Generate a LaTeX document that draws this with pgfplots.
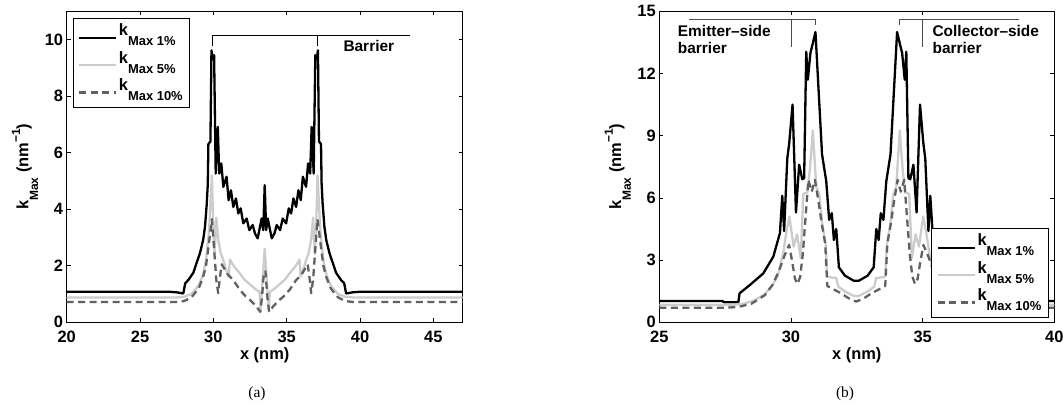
\documentclass[border=0pt]{standalone}
\usepackage{fontspec}
\setmainfont{Liberation Sans}
\newfontfamily\capfont{Liberation Serif}
\usepackage{pgfplots}
\pgfplotsset{compat=1.18}

\definecolor{lgray}{gray}{0.80}
\definecolor{dgray}{gray}{0.38}

\newcommand{\lbl}{\fontsize{16.5}{19}\selectfont\bfseries}
\newcommand{\ann}{\fontsize{15.5}{18}\selectfont\bfseries}
\newcommand{\sub}[1]{\raisebox{-0.6em}{\fontsize{12}{13}\selectfont #1}}
\newcommand{\sups}[1]{\raisebox{0.5em}{\fontsize{12}{13}\selectfont #1}}
% legend entry: k with a lowered subscript
\newcommand{\kent}[1]{{\fontsize{16.5}{19}\selectfont\bfseries k\raisebox{-10bp}{\fontsize{13}{14}\selectfont #1}}}

\pgfplotsset{
  kmax/.style={
    scale only axis, width=395bp, height=311bp,
    axis line style={line width=0.9bp},
    tick style={line width=0.7bp, black},
    tick align=inside, major tick length=4bp, tick pos=both,
    ticklabel style={font=\lbl},
    /pgf/number format/assume math mode=true,
    yticklabel style={inner sep=0pt, xshift=-3.4bp},
    xticklabel style={inner sep=0pt, yshift=-8.4bp},
    xlabel style={font=\lbl, at={(axis description cs:0.5,-0.105)}, anchor=center},
    ylabel style={font=\lbl, at={(axis description cs:-0.105,0.5)}, anchor=center},
    xlabel={x (nm)},
    ylabel={k\sub{Max} (nm\sups{\textminus1})},
    legend cell align=left,
    legend image code/.code={\draw[#1] (0bp,-2.5bp) -- (37bp,-2.5bp);},
    legend style={draw=black, line width=0.8bp, fill=white,
      inner xsep=5bp, inner ysep=6bp, row sep=5bp,
      nodes={inner xsep=1.5bp, inner ysep=0bp, text depth=10.5bp}},
    every axis plot/.append style={line width=2.3bp, line join=round},
  },
  k1/.style={black},
  k5/.style={lgray},
  k10/.style={dgray, dash pattern=on 7bp off 4.5bp},
}

\begin{document}
\begin{tikzpicture}
\useasboundingbox (0,0) rectangle (1063bp,405bp);

% ---------------- (a) single barrier ----------------
\begin{axis}[kmax, at={(66.7bp,82.7bp)}, anchor=south west, width=396bp,
  xmin=20, xmax=47, ymin=0, ymax=11,
  xtick={20,25,...,45}, ytick={0,2,...,10},
  legend style={at={(0.0152,0.9797)}, anchor=north west}]
\addplot[k1] coordinates {
(20,1.08) (27.0,1.08) (27.5,1.06) (27.95,1.02) (28.08,1.38) (28.3,1.5) (28.63,1.75)
(29.08,2.44) (29.3,2.9) (29.43,3.38) (29.55,4.2) (29.62,4.9) (29.66,6.3) (29.8,6.4)
(29.87,9.62) (29.95,9.3) (30.05,9.45) (30.16,5.26) (30.3,6.91) (30.4,5.26) (30.54,5.62)
(30.68,4.79) (30.9,5.15) (31.04,4.32) (31.2,4.67) (31.36,4.08) (31.54,4.38) (31.7,3.85)
(31.86,4.03) (32.04,3.5) (32.27,3.67) (32.45,3.26) (32.68,3.44) (32.84,3.14) (33.02,2.97)
(33.18,3.38) (33.29,3.67) (33.4,3.26) (33.5,4.85) (33.6,3.26) (33.71,3.67) (33.82,3.38)
(33.98,2.97) (34.16,3.14) (34.32,3.44) (34.55,3.26) (34.73,3.67) (34.96,3.5) (35.14,4.03)
(35.3,3.85) (35.46,4.38) (35.64,4.08) (35.8,4.67) (35.96,4.32) (36.1,5.15) (36.32,4.79)
(36.46,5.62) (36.6,5.26) (36.7,6.91) (36.84,5.26) (36.95,9.45) (37.05,9.3) (37.13,9.62)
(37.2,6.4) (37.34,6.3) (37.38,4.9) (37.45,4.2) (37.57,3.38) (37.7,2.9) (37.92,2.44)
(38.37,1.75) (38.7,1.5) (38.92,1.38) (39.05,1.02) (39.5,1.06) (40,1.08) (47,1.08)
};
\addplot[k5] coordinates {
(20,0.88) (27.5,0.88) (28.0,0.9) (28.5,1.0) (29.0,1.3) (29.3,1.7) (29.5,2.2) (29.7,3.2)
(29.8,4.2) (29.9,5.2) (30.0,3.2) (30.08,2.4) (30.2,3.7) (30.34,2.9) (30.5,2.45) (30.68,2.2)
(30.85,1.9) (31.05,1.62) (31.13,2.22) (31.4,1.98) (31.81,1.73) (32.1,1.52) (32.49,1.34)
(32.85,1.18) (33.15,1.07) (33.21,0.38) (33.5,2.6) (33.79,0.38) (33.85,1.07) (34.15,1.18)
(34.51,1.34) (34.9,1.52) (35.19,1.73) (35.6,1.98) (35.87,2.22) (35.95,1.62) (36.15,1.9)
(36.32,2.2) (36.5,2.45) (36.66,2.9) (36.8,3.7) (36.92,2.4) (37.0,3.2) (37.1,5.2) (37.2,4.2)
(37.3,3.2) (37.5,2.2) (37.7,1.7) (38.0,1.3) (38.5,1.0) (39.0,0.9) (39.5,0.88) (47,0.88)
};
\addplot[k10] coordinates {
(20,0.72) (27.5,0.72) (28.0,0.75) (28.5,0.88) (29.0,1.2) (29.3,1.6) (29.5,2.0) (29.7,2.8)
(29.9,3.65) (30.05,2.6) (30.2,1.5) (30.33,1.03) (30.45,1.6) (30.57,2.05) (30.8,1.85)
(31.0,1.68) (31.36,1.49) (31.8,1.15) (32.2,0.92) (32.5,0.79) (32.9,0.58) (33.2,0.37)
(33.32,0.9) (33.45,1.8) (33.55,1.8) (33.68,0.9) (33.8,0.37) (34.1,0.58) (34.5,0.79)
(34.8,0.92) (35.2,1.15) (35.64,1.49) (36.0,1.68) (36.2,1.85) (36.43,2.05) (36.55,1.6)
(36.67,1.03) (36.8,1.5) (36.95,2.6) (37.1,3.65) (37.3,2.8) (37.5,2.0) (37.7,1.6) (38.0,1.2)
(38.5,0.88) (39.0,0.75) (39.5,0.72) (47,0.72)
};
\legend{\kent{Max 1\%}, \kent{Max 5\%}, \kent{Max 10\%}}
% barrier bracket
\draw[black, line width=0.8bp] (axis cs:29.9,9.78) -- (axis cs:29.9,10.15) -- (axis cs:43.4,10.15);
\draw[black, line width=0.8bp] (axis cs:37.1,9.78) -- (axis cs:37.1,10.15);
\node[font=\ann, anchor=west, inner sep=0pt] at (axis cs:38.86,9.77) {Barrier};
\end{axis}

% ---------------- (b) double barrier ----------------
\begin{axis}[kmax, at={(659.3bp,82.7bp)}, anchor=south west,
  xmin=25, xmax=40, ymin=0, ymax=15,
  xtick={25,30,35,40}, ytick={0,3,...,15},
  legend style={at={(0.9848,0.0148)}, anchor=south east}]
\addplot[k1] coordinates {
(25,1.03) (27.4,1.03) (27.45,0.97) (28.0,0.97) (28.05,1.4) (28.44,1.8) (28.95,2.36)
(29.33,3.17) (29.58,4.3) (29.67,6.1) (29.74,4.4) (29.86,7.9) (29.93,8.6) (30.06,10.5)
(30.19,5.3) (30.31,7.6) (30.43,6.9) (30.5,6.95) (30.58,13.05) (30.64,11.7) (30.74,13.0)
(30.8,13.3) (30.93,14.0) (31.18,8.1) (31.34,6.8) (31.45,4.94) (31.55,5.26) (31.63,3.97)
(31.72,4.5) (31.82,2.65) (32.05,2.25) (32.39,2.0) (32.57,2.0) (32.91,2.25) (33.14,2.65)
(33.24,4.5) (33.33,3.97) (33.41,5.26) (33.51,4.94) (33.62,6.8) (33.78,8.1) (34.03,14.0)
(34.16,13.3) (34.22,13.0) (34.32,11.7) (34.38,13.05) (34.46,6.95) (34.53,6.9) (34.65,7.6)
(34.77,5.3) (34.9,10.5) (35.03,8.6) (35.1,7.9) (35.22,4.4) (35.29,6.1) (35.38,4.3)
(35.63,3.17) (36.01,2.36) (36.52,1.8) (36.91,1.4) (36.96,0.97) (37.51,0.97) (37.56,1.03)
(40,1.03)
};
\addplot[k5] coordinates {
(25,0.84) (27.8,0.84) (28.2,0.9) (28.6,1.05) (29.0,1.35) (29.3,1.8) (29.5,2.25) (29.7,3.3)
(29.82,4.3) (29.94,5.1) (30.1,3.65) (30.23,4.24) (30.37,3.1) (30.47,6.2) (30.62,6.25)
(30.72,7.4) (30.83,9.25) (30.96,6.55) (31.08,6.14) (31.2,4.6) (31.32,3.75) (31.38,2.2)
(31.6,2.15) (31.72,2.15) (31.8,1.72) (32.06,1.48) (32.39,1.27) (32.57,1.27) (32.9,1.48)
(33.16,1.72) (33.24,2.15) (33.36,2.15) (33.58,2.2) (33.64,3.75) (33.76,4.6) (33.88,6.14)
(34.0,6.55) (34.13,9.25) (34.24,7.4) (34.34,6.25) (34.49,6.2) (34.59,3.1) (34.73,4.24)
(34.86,3.65) (35.02,5.1) (35.14,4.3) (35.26,3.3) (35.46,2.25) (35.66,1.8) (35.96,1.35)
(36.36,1.05) (36.76,0.9) (37.16,0.84) (40,0.84)
};
\addplot[k10] coordinates {
(25,0.7) (27.5,0.7) (28.0,0.74) (28.5,0.9) (29.0,1.3) (29.3,1.8) (29.55,2.5) (29.75,3.2)
(29.93,3.73) (30.05,2.9) (30.15,2.1) (30.25,1.85) (30.35,2.2) (30.45,3.3) (30.55,5.0)
(30.66,6.87) (30.79,6.3) (30.91,6.87) (31.05,5.8) (31.15,4.9) (31.3,3.8) (31.38,1.75)
(31.6,1.6) (31.9,1.4) (32.2,1.15) (32.48,1.0) (32.76,1.15) (33.06,1.4) (33.36,1.6)
(33.58,1.75) (33.66,3.8) (33.81,4.9) (33.91,5.8) (34.05,6.87) (34.17,6.3) (34.3,6.87)
(34.41,5.0) (34.51,3.3) (34.61,2.2) (34.71,1.85) (34.81,2.1) (34.91,2.9) (35.03,3.73)
(35.21,3.2) (35.41,2.5) (35.66,1.8) (35.96,1.3) (36.46,0.9) (36.96,0.74) (37.46,0.7)
(40,0.7)
};
\legend{\kent{Max 1\%}, \kent{Max 5\%}, \kent{Max 10\%}}
% barrier brackets
\draw[black!70, line width=0.8bp] (axis cs:26.12,14.62) -- (axis cs:30.92,14.62) -- (axis cs:30.92,14.35);
\draw[black!70, line width=0.8bp] (axis cs:30,14.62) -- (axis cs:30,13.3);
\draw[black!70, line width=0.8bp] (axis cs:34.1,14.35) -- (axis cs:34.1,14.62) -- (axis cs:38.65,14.62);
\draw[black!70, line width=0.8bp] (axis cs:35,14.62) -- (axis cs:35,13.3);
\node[font=\ann, anchor=west, inner sep=0pt] at (axis cs:25.7,14.07) {Emitter\textendash side};
\node[font=\ann, anchor=west, inner sep=0pt] at (axis cs:25.7,13.22) {barrier};
\node[font=\ann, anchor=west, inner sep=0pt] at (axis cs:35.37,14.07) {Collector\textendash side};
\node[font=\ann, anchor=west, inner sep=0pt] at (axis cs:35.37,13.22) {barrier};
\end{axis}

% sub-figure captions
\node[font=\capfont\fontsize{15.5}{18}\selectfont] at (257bp,11bp) {(a)};
\node[font=\capfont\fontsize{15.5}{18}\selectfont] at (845bp,11bp) {(b)};
\end{tikzpicture}
\end{document}
